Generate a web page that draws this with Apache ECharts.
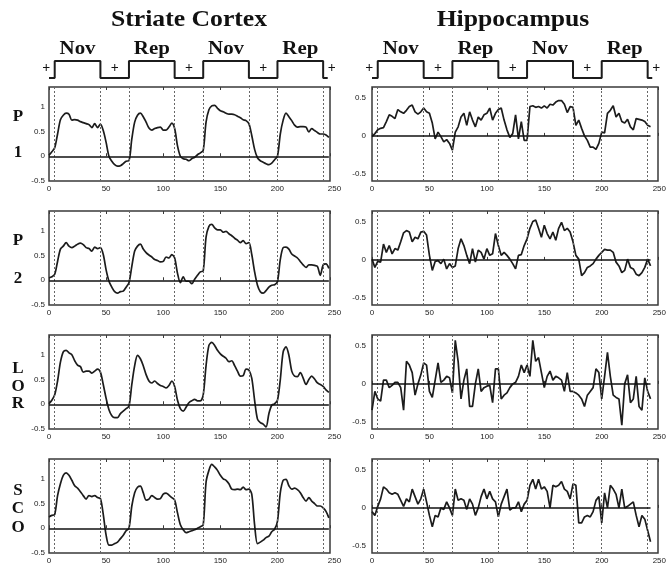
<!DOCTYPE html>
<html>
<head>
<meta charset="utf-8">
<script src="https://cdn.jsdelivr.net/npm/echarts@6/dist/echarts.min.js"></script>
<style>
html, body { margin: 0; padding: 0; background: #fff; }
#chart { width: 669px; height: 566px; }
</style>
</head>
<body>
<div id="chart"></div>
<script>
// sample times (s), one scan every 2.5 s
var time = [0,2.5,5,7.5,10,12.5,15,17.5,20,22.5,25,27.5,30,32.5,35,37.5,40,42.5,45,47.5,
  50,52.5,55,57.5,60,62.5,65,67.5,70,72.5,75,77.5,80,82.5,85,87.5,90,92.5,95,97.5,
  100,102.5,105,107.5,110,112.5,115,117.5,120,122.5,125,127.5,130,132.5,135,137.5,140,142.5,145,147.5,
  150,152.5,155,157.5,160,162.5,165,167.5,170,172.5,175,177.5,180,182.5,185,187.5,190,192.5,195,197.5,
  200,202.5,205,207.5,210,212.5,215,217.5,220,222.5,225,227.5,230,232.5,235,237.5,240,242.5,245];

var regions = ['Striate Cortex', 'Hippocampus'];
var rowNames = [['P', '1'], ['P', '2'], ['L', 'O', 'R'], ['S', 'C', 'O']];

// stimulus blocks, with fixation (+) between them
var blockNames = ['Nov', 'Rep', 'Nov', 'Rep'];
var blockOn = [5, 70, 135, 200];
var blockOff = [45, 110, 175, 240];
var fixMid = [-2.5, 57.5, 122.5, 187.5, 247.5];

// Striate cortex time courses
var striateP1 = [0.02,0.09,0.17,0.45,0.74,0.83,0.87,0.85,0.73,0.74,
  0.73,0.70,0.68,0.66,0.64,0.58,0.66,0.58,0.65,0.52,
  0.28,0.00,-0.10,-0.17,-0.20,-0.19,-0.15,-0.10,-0.09,0.35,
  0.69,0.83,0.87,0.80,0.69,0.57,0.53,0.56,0.58,0.59,
  0.53,0.53,0.59,0.67,0.56,0.21,0.00,-0.05,-0.06,-0.09,
  -0.05,-0.02,0.03,0.07,0.12,0.69,0.94,1.02,1.03,0.97,
  0.92,0.90,0.87,0.85,0.85,0.84,0.81,0.78,0.74,0.72,
  0.66,0.42,0.14,-0.03,-0.09,-0.12,-0.15,-0.17,-0.14,-0.07,
  0.00,0.45,0.73,0.87,0.80,0.72,0.63,0.59,0.60,0.60,
  0.59,0.49,0.56,0.52,0.48,0.45,0.45,0.43,0.38];
var striateP2 = [0.05,0.07,0.12,0.38,0.63,0.69,0.76,0.69,0.66,0.69,
  0.73,0.75,0.72,0.66,0.64,0.59,0.67,0.64,0.66,0.52,
  0.21,-0.02,-0.14,-0.23,-0.26,-0.23,-0.22,-0.14,-0.05,0.28,
  0.59,0.69,0.73,0.63,0.56,0.51,0.47,0.42,0.40,0.37,
  0.38,0.47,0.45,0.52,0.45,0.14,-0.05,0.07,-0.02,-0.02,
  -0.07,0.02,0.10,0.17,0.19,0.87,1.09,1.13,1.06,1.02,
  1.02,0.97,0.99,0.94,0.90,0.85,0.81,0.76,0.80,0.74,
  0.76,0.52,0.17,-0.10,-0.23,-0.26,-0.21,-0.14,-0.10,-0.09,
  -0.03,0.42,0.66,0.67,0.63,0.53,0.49,0.45,0.38,0.31,
  0.26,0.31,0.31,0.30,0.28,0.10,0.31,0.33,0.24];
var striateLOR = [0.01,0.08,0.19,0.47,0.85,1.06,1.09,1.04,1.00,0.88,
  0.79,0.76,0.65,0.67,0.67,0.63,0.67,0.71,0.65,0.40,
  0.12,-0.11,-0.23,-0.27,-0.27,-0.19,-0.14,-0.09,-0.04,0.40,
  0.78,0.99,0.92,0.78,0.60,0.47,0.43,0.47,0.42,0.38,
  0.36,0.33,0.38,0.47,0.36,0.08,-0.09,-0.14,-0.06,0.03,
  0.07,0.10,0.07,0.07,0.19,0.78,1.19,1.25,1.19,1.09,
  1.02,0.97,0.93,0.86,0.88,0.78,0.67,0.57,0.58,0.71,
  0.69,0.53,0.08,-0.30,-0.37,-0.40,-0.46,-0.19,-0.02,0.01,
  0.08,0.50,1.06,1.16,0.99,0.67,0.57,0.56,0.64,0.53,
  0.40,0.50,0.57,0.51,0.43,0.40,0.36,0.29,0.24];
var striateSCO = [0.23,0.26,0.28,0.66,0.90,1.07,1.12,1.07,0.97,0.86,
  0.81,0.74,0.66,0.59,0.66,0.64,0.66,0.62,0.60,0.28,
  -0.14,-0.34,-0.34,-0.31,-0.28,-0.21,-0.14,-0.05,0.00,0.45,
  0.72,0.83,0.85,0.72,0.57,0.59,0.66,0.62,0.59,0.60,
  0.69,0.71,0.67,0.62,0.57,0.31,0.07,-0.03,-0.09,-0.07,
  -0.05,-0.03,0.00,0.03,0.07,0.93,1.17,1.29,1.24,1.17,
  1.07,1.00,0.97,0.90,0.79,0.78,0.79,0.78,0.83,0.78,
  0.79,0.69,0.07,-0.31,-0.28,-0.24,-0.19,-0.16,-0.07,-0.02,
  0.14,0.72,0.97,0.99,0.86,0.79,0.81,0.78,0.72,0.62,
  0.55,0.62,0.55,0.50,0.45,0.45,0.41,0.34,0.21];

// Hippocampus time courses
var hippoP1 = [-0.01,0.03,0.08,0.10,0.11,0.19,0.28,0.26,0.23,0.35,
  0.32,0.30,0.34,0.39,0.41,0.32,0.29,0.32,0.37,0.32,
  0.30,0.17,-0.04,0.05,-0.01,-0.08,-0.05,-0.10,-0.19,0.05,
  0.12,0.25,0.30,0.14,0.32,0.21,0.12,0.25,0.21,0.28,
  0.30,0.37,0.21,0.30,0.35,0.37,0.21,0.08,-0.02,0.03,
  0.28,-0.04,0.19,-0.06,-0.06,0.39,0.40,0.38,0.39,0.37,
  0.40,0.37,0.42,0.41,0.45,0.47,0.47,0.42,0.31,0.39,
  0.38,0.14,0.21,0.10,0.00,-0.06,-0.15,-0.15,-0.18,-0.10,
  0.05,0.04,0.30,0.34,0.40,0.25,0.30,0.19,0.17,0.22,
  0.12,0.08,0.23,0.22,0.21,0.19,0.14,0.12];
var hippoP2 = [0.01,-0.10,-0.02,-0.03,0.21,0.10,0.19,0.08,0.15,0.13,
  0.24,0.36,0.39,0.37,0.24,0.30,0.28,0.37,0.38,0.33,
  0.06,-0.14,-0.02,-0.01,-0.05,0.01,-0.12,-0.05,-0.10,-0.08,
  0.15,0.28,0.19,0.06,-0.05,0.15,-0.03,0.13,0.10,0.01,
  0.15,0.06,0.08,0.35,0.19,0.06,0.10,0.06,0.01,-0.05,
  -0.12,0.06,0.07,0.19,0.28,0.42,0.51,0.53,0.42,0.30,
  0.46,0.35,0.28,0.37,0.26,0.42,0.50,0.39,0.42,0.37,
  0.24,0.06,0.01,-0.21,-0.17,-0.10,-0.08,-0.05,0.01,0.06,
  0.10,0.14,0.13,0.13,0.10,-0.03,-0.08,-0.17,-0.14,0.01,
  -0.10,-0.12,-0.19,-0.21,-0.17,-0.10,0.01,-0.08];
var hippoLOR = [-0.35,-0.10,-0.20,-0.23,0.05,0.05,-0.05,-0.02,0.02,0.02,
  -0.05,-0.35,0.30,0.25,0.15,-0.15,0.00,0.12,0.28,0.25,
  -0.10,-0.18,0.05,0.28,0.02,0.05,0.10,0.08,-0.12,0.58,
  0.30,-0.20,0.05,0.20,-0.30,-0.30,0.00,0.20,-0.10,-0.05,
  -0.03,-0.02,-0.25,0.20,0.20,-0.20,-0.15,-0.12,-0.05,0.00,
  0.02,0.10,0.25,0.15,0.25,0.10,0.58,0.30,0.35,0.15,
  -0.05,0.10,0.17,0.05,0.10,0.08,0.05,-0.10,0.15,-0.10,
  -0.10,-0.12,-0.15,-0.20,-0.30,-0.15,-0.10,-0.05,0.20,0.15,
  -0.20,0.10,0.42,0.10,-0.15,-0.18,-0.20,-0.55,0.00,0.12,
  -0.25,-0.20,0.10,-0.30,-0.35,0.08,-0.10,-0.20];
var hippoSCO = [-0.05,-0.10,0.02,0.12,0.28,0.25,0.20,0.18,0.20,0.18,
  0.10,0.02,0.12,0.08,0.25,0.15,0.05,0.12,0.25,0.08,
  -0.10,-0.25,-0.10,-0.12,0.00,-0.02,0.08,0.00,-0.10,0.25,
  0.10,0.12,0.10,-0.02,0.12,0.05,-0.10,0.00,0.15,0.25,
  0.12,0.22,0.12,0.08,-0.12,0.05,0.15,0.25,-0.03,0.00,
  0.00,0.08,-0.05,0.05,0.10,0.30,0.38,0.25,0.38,0.25,
  0.28,0.22,0.00,0.30,0.28,0.30,0.35,0.25,0.22,0.12,
  0.32,0.30,-0.20,-0.20,-0.12,-0.10,-0.12,-0.05,0.10,0.15,
  -0.20,0.20,0.00,0.30,0.25,0.18,0.00,0.25,0.00,0.02,
  0.05,0.08,-0.10,-0.25,-0.10,-0.15,-0.30,-0.45];

var chart = echarts.init(document.getElementById('chart'));

// layout
var rowTop = [87, 211, 335, 459];
var rowHeight = 94;
var cols = [
  { left: 49, width: 281, xMax: 246, labelWidth: 285.5, yMin: -0.5, yMax: 1.4, yStep: 0.5,
    yMargin: 4, smooth: 0.3, data: [striateP1, striateP2, striateLOR, striateSCO], center: 189 },
  { left: 372, width: 286, xMax: 249, labelWidth: 287.5, yMin: -0.6, yMax: 0.65, yStep: 0.1,
    yMargin: 6, smooth: false, data: [hippoP1, hippoP2, hippoLOR, hippoSCO], center: 513 }
];
var LOW = 0.3, HIGH = 2, PLUS = 1.3, NAME_Y = 3.2;   // schematic levels
var serif = '"Liberation Serif", "Times New Roman", serif';
var sans = '"Liberation Sans", Arial, sans-serif';
var ink = '#1c1c1c';

var grids = [], xAxes = [], yAxes = [], series = [];
var schemGrid = [];

function tickLabel(v) {
  if (Math.abs(v * 2 - Math.round(v * 2)) > 1e-6) return '';
  return String(+v.toFixed(1));
}

cols.forEach(function (col, c) {
  col.data.forEach(function (vals, r) {
    // plot box
    var g = grids.length;
    grids.push({ left: col.left, top: rowTop[r], width: col.width, height: rowHeight,
      show: true, borderColor: '#3a3a3a', borderWidth: 1.5, containLabel: false });
    var xi = xAxes.length;
    xAxes.push({ gridIndex: g, type: 'value', min: 0, max: col.xMax, interval: 50,
      axisLine: { show: false }, splitLine: { show: false }, axisLabel: { show: false },
      axisTick: { show: true, inside: true, length: 3, lineStyle: { color: '#3a3a3a' } } });
    xAxes.push({ gridIndex: g, type: 'value', position: 'top', min: 0, max: col.xMax, interval: 50,
      axisLine: { show: false }, splitLine: { show: false }, axisLabel: { show: false },
      axisTick: { show: true, inside: true, length: 3, lineStyle: { color: '#3a3a3a' } } });
    var yi = yAxes.length;
    yAxes.push({ gridIndex: g, type: 'value', min: col.yMin, max: col.yMax, interval: col.yStep,
      axisLine: { show: false }, splitLine: { show: false }, axisTick: { show: false },
      axisLabel: { show: true, formatter: tickLabel, fontSize: 8, color: '#222',
        fontFamily: sans, margin: col.yMargin } });

    var pts = [];
    for (var i = 0; i < vals.length; i++) pts.push([time[i], vals[i]]);
    var lastT = time[vals.length - 1];

    var marks = [];
    blockOn.concat(blockOff).forEach(function (t) {
      marks.push({ xAxis: t, lineStyle: { color: '#666', width: 1, type: [2, 2] } });
    });
    marks.push([{ coord: [0, 0], lineStyle: { color: '#111', width: 1.6, type: 'solid' } },
                { coord: [lastT, 0] }]);

    series.push({ type: 'line', xAxisIndex: xi, yAxisIndex: yi, data: pts,
      showSymbol: false, symbol: 'none', smooth: col.smooth, animation: false,
      lineStyle: { color: ink, width: 1.7 },
      markLine: { silent: true, symbol: 'none', animation: false, label: { show: false },
        data: marks } });

    // tick labels 0..250
    var lg = grids.length;
    grids.push({ left: col.left, top: rowTop[r], width: col.labelWidth, height: rowHeight, show: false });
    xAxes.push({ gridIndex: lg, type: 'value', min: 0, max: 250, interval: 50,
      axisLine: { show: false }, axisTick: { show: false }, splitLine: { show: false },
      axisLabel: { fontSize: 8, color: '#222', fontFamily: sans, margin: 4 } });
    yAxes.push({ gridIndex: lg, type: 'value', show: false, min: 0, max: 1 });
  });

  // stimulus schematic
  var sg = grids.length;
  schemGrid.push(sg);
  grids.push({ left: col.left, top: 41, width: col.width, height: 40, show: false });
  var sx = xAxes.length;
  xAxes.push({ gridIndex: sg, type: 'value', show: false, min: 0, max: col.xMax });
  var sy = yAxes.length;
  yAxes.push({ gridIndex: sg, type: 'value', show: false, min: 0, max: 4 });
  var wave = [[0, LOW]];
  for (var k = 0; k < blockOn.length; k++) {
    wave.push([blockOn[k], LOW], [blockOn[k], HIGH], [blockOff[k], HIGH], [blockOff[k], LOW]);
  }
  wave.push([244, LOW]);
  series.push({ type: 'line', xAxisIndex: sx, yAxisIndex: sy, data: wave, clip: false,
    symbol: 'none', animation: false, lineStyle: { color: ink, width: 2 } });
});

chart.setOption({
  animation: false,
  backgroundColor: '#fff',
  grid: grids,
  xAxis: xAxes,
  yAxis: yAxes,
  series: series
});

// text: titles, row names, block names and fixation crosses
function txt(s, x, y, size, sx) {
  return { type: 'text', x: x, y: y, scaleX: sx || 1, silent: true,
    style: { text: s, fontSize: size, fontWeight: 'bold', fontFamily: serif, fill: '#111',
      textAlign: 'center', textVerticalAlign: 'middle', align: 'center', verticalAlign: 'middle' } };
}
var graphics = [];
cols.forEach(function (col, c) {
  graphics.push(txt(regions[c], col.center, 20, 24, 1.07));
  blockNames.forEach(function (name, k) {
    var p = chart.convertToPixel({ gridIndex: schemGrid[c] }, [(blockOn[k] + blockOff[k]) / 2, NAME_Y]);
    graphics.push(txt(name, p[0], p[1], 19, 1.1));
  });
  fixMid.forEach(function (t) {
    var p = chart.convertToPixel({ gridIndex: schemGrid[c] }, [t, PLUS]);
    graphics.push(txt('+', p[0], p[1], 14, 1));
  });
});
var rowLetterY = [[117, 153], [241, 279], [369, 387, 404], [491, 509, 528]];
rowNames.forEach(function (letters, r) {
  letters.forEach(function (s, j) {
    graphics.push(txt(s, 18, rowLetterY[r][j], 17, 1));
  });
});
chart.setOption({ graphic: graphics });
</script>
</body>
</html>
